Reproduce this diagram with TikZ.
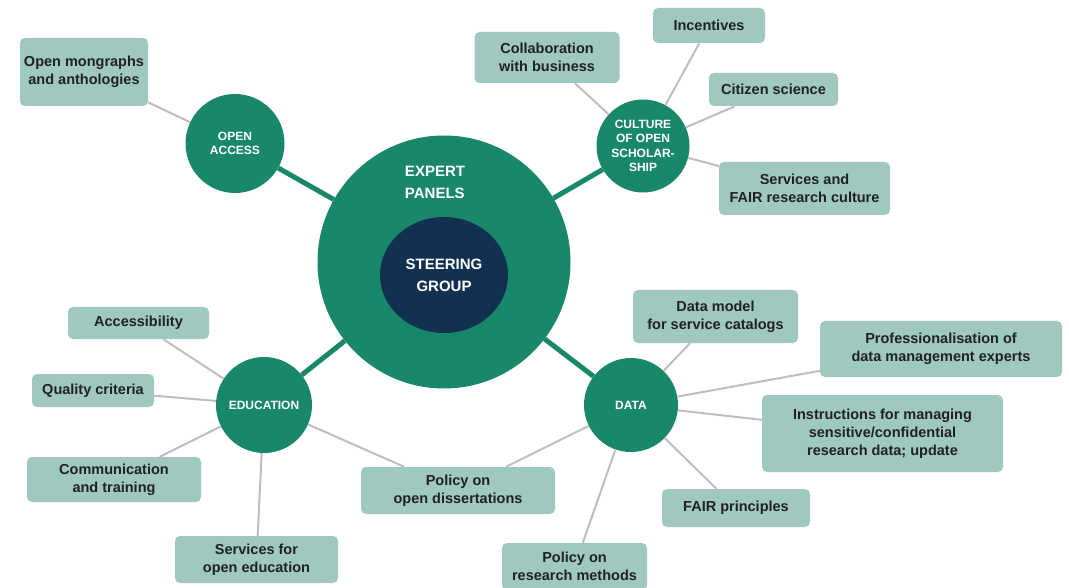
\documentclass[tikz,border=0pt]{standalone}
\usepackage{fontspec}
\setmainfont{Liberation Sans}
\usetikzlibrary{shapes.geometric}
\definecolor{cgreen}{HTML}{18876A}
\definecolor{cnavy}{HTML}{12304F}
\definecolor{cbox}{HTML}{9EC8C0}
\definecolor{cline}{HTML}{BEBEBE}
\definecolor{ctext}{HTML}{222222}
\tikzset{
  leaf/.style={draw=none, fill=cbox, rounded corners=5pt, align=center, text=ctext,
    font=\bfseries\fontsize{14.5}{18}\selectfont, inner sep=0pt},
  hub/.style={circle, draw=none, fill=cgreen, align=center, text=white,
    font=\bfseries\fontsize{12}{14.5}\selectfont, inner sep=0pt},
  thin/.style={draw=cline, line width=2pt},
  thick/.style={draw=cgreen, line width=5pt},
}
\begin{document}
\begin{tikzpicture}[x=1pt,y=-1pt]
\path[use as bounding box] (0,0) rectangle (1069,588);
% central
\node[circle, fill=cgreen, minimum size=253pt, inner sep=0pt] (expert) at (444,262) {};
\node[align=left, text=white, font=\bfseries\fontsize{15}{21.5}\selectfont] (explabel) at (435,182.5) {EXPERT\\PANELS};
\node[ellipse, fill=cnavy, minimum width=128pt, minimum height=116pt, inner sep=0pt, align=center, text=white, font=\bfseries\fontsize{15}{22}\selectfont] (steer) at (444,275) {STEERING\\GROUP};
% hubs
\node[hub, minimum size=99pt] (oa) at (235,143.5) {OPEN\\ACCESS};
\node[hub, minimum size=93pt] (cult) at (643,146) {CULTURE\\OF OPEN\\SCHOLAR-\\SHIP};
\node[hub, minimum size=96pt] (edu) at (264,405) {EDUCATION};
\node[hub, minimum size=94pt] (data) at (631,405) {DATA};
% leaves
\node[leaf, minimum width=128pt, minimum height=68pt] (mono) at (84,72) {Open mongraphs\\and anthologies};
\node[leaf, minimum width=145pt, minimum height=51pt] (collab) at (547,57.5) {Collaboration\\with business};
\node[leaf, minimum width=112pt, minimum height=35pt] (incent) at (709,25.5) {Incentives};
\node[leaf, minimum width=129pt, minimum height=33pt] (citizen) at (773.5,89.5) {Citizen science};
\node[leaf, minimum width=171pt, minimum height=53pt] (servfair) at (804.5,188.5) {Services and\\FAIR research culture};
\node[leaf, minimum width=141pt, minimum height=32pt] (access) at (138.5,323) {Accessibility};
\node[leaf, minimum width=122pt, minimum height=33pt] (quality) at (93,390.5) {Quality criteria};
\node[leaf, minimum width=174pt, minimum height=45pt] (comm) at (114,479.5) {Communication\\and training};
\node[leaf, minimum width=163pt, minimum height=47pt] (servedu) at (256.5,559.5) {Services for\\open education};
\node[leaf, minimum width=194pt, minimum height=47pt] (diss) at (458,490.5) {Policy on\\open dissertations};
\node[leaf, minimum width=145pt, minimum height=47pt] (methods) at (574.5,566.5) {Policy on\\research methods};
\node[leaf, minimum width=165pt, minimum height=53pt] (model) at (715.5,316.5) {Data model\\for service catalogs};
\node[leaf, minimum width=242pt, minimum height=56pt] (prof) at (941,349) {Professionalisation of\\data management experts};
\node[leaf, minimum width=241pt, minimum height=77pt] (instr) at (882.5,433.5) {Instructions for managing\\sensitive/confidential\\research data; update};
\node[leaf, minimum width=148pt, minimum height=38pt] (fair) at (736,508) {FAIR principles};
% connectors
\draw[thick] (oa) -- (expert);
\draw[thick] (cult) -- (expert);
\draw[thick] (edu) -- (expert);
\draw[thick] (data) -- (expert);
\draw[thin] (mono) -- (oa);
\draw[thin] (collab) -- (cult);
\draw[thin] (incent) -- (cult);
\draw[thin] (citizen) -- (cult);
\draw[thin] (servfair) -- (cult);
\draw[thin] (access) -- (edu);
\draw[thin] (quality) -- (edu);
\draw[thin] (comm) -- (edu);
\draw[thin] (servedu) -- (edu);
\draw[thin] (diss) -- (edu);
\draw[thin] (diss) -- (data);
\draw[thin] (methods) -- (data);
\draw[thin] (model) -- (data);
\draw[thin] (prof) -- (data);
\draw[thin] (instr) -- (data);
\draw[thin] (fair) -- (data);
\end{tikzpicture}
\end{document}
